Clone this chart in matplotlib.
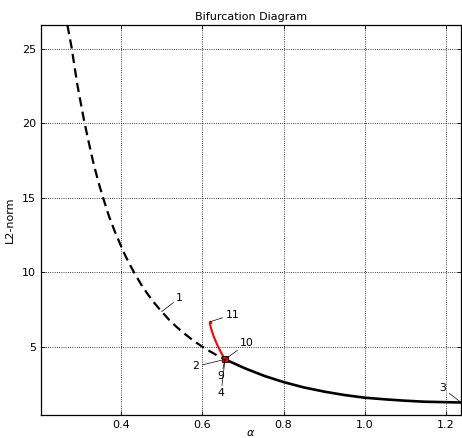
import matplotlib
matplotlib.use("Agg")
import matplotlib.pyplot as plt

# Unstable branch (dashed), from the top of the plot down to the branch point
unstable_alpha = [0.268, 0.279, 0.285, 0.2925, 0.300, 0.309, 0.320, 0.332,
                  0.345, 0.356, 0.370, 0.385, 0.406, 0.420, 0.434, 0.450,
                  0.463, 0.480, 0.500, 0.520, 0.537, 0.555, 0.570, 0.585,
                  0.598, 0.615, 0.635, 0.656]
unstable_l2 = [26.6, 25.0, 23.9, 22.6, 21.5, 20.2, 18.8, 17.35,
               16.0, 15.0, 13.8, 12.73, 11.39, 10.61, 9.91, 9.18,
               8.65, 8.02, 7.37, 6.78, 6.34, 5.92, 5.60, 5.30,
               5.06, 4.77, 4.46, 4.17]

# Stable branch (solid)
stable_alpha = [0.656, 0.680, 0.705, 0.754, 0.800, 0.850, 0.902, 0.950,
                1.000, 1.050, 1.099, 1.148, 1.200, 1.237]
stable_l2 = [4.17, 3.88, 3.57, 3.05, 2.65, 2.29, 2.00, 1.78,
             1.60, 1.49, 1.40, 1.33, 1.30, 1.28]

# Secondary branch (red) leaving the branch point
branch_alpha = [0.656, 0.650, 0.644, 0.638, 0.632, 0.627, 0.623, 0.620,
                0.6188, 0.6198, 0.622]
branch_l2 = [4.17, 4.45, 4.75, 5.08, 5.45, 5.80, 6.13, 6.42,
             6.60, 6.70, 6.62]

# Special point labels with their text offsets (px)
point_labels = ["1", "2", "3", "4", "9", "10", "11"]
point_alpha = [0.500, 0.656, 1.237, 0.656, 0.656, 0.656, 0.6198]
point_l2 = [7.37, 4.17, 1.28, 4.17, 4.17, 4.17, 6.70]
label_dx = [18, -29, -18, -4, -4, 22, 22]
label_dy = [14, -7, 14, -34, -17, 16, 7]

fig = plt.figure(figsize=(4.62, 4.38), dpi=100)
ax = fig.add_axes([0.0887, 0.0525, 0.9093, 0.8905])

ax.plot(unstable_alpha, unstable_l2, color="k", linestyle="--", linewidth=1.6,
        dashes=(4.2, 2.4))
ax.plot(stable_alpha, stable_l2, color="k", linestyle="-", linewidth=1.9)
ax.plot(branch_alpha, branch_l2, color="red", linestyle="-", linewidth=1.5)
ax.plot([stable_alpha[0]], [stable_l2[0]], marker="s", markersize=5,
        markerfacecolor="red", markeredgecolor="k", markeredgewidth=0.6,
        linestyle="none")

for txt, a, v, dx, dy in zip(point_labels, point_alpha, point_l2, label_dx, label_dy):
    ax.annotate(txt, xy=(a, v), xytext=(dx * 0.72, dy * 0.72),
                textcoords="offset points", ha="center", va="center",
                fontsize=7.8,
                arrowprops=dict(arrowstyle="-", color="k", lw=0.5,
                                shrinkA=0, shrinkB=0))

ax.set_xlim(0.203, 1.237)
ax.set_ylim(0.44, 26.6)
ax.set_xticks([0.4, 0.6, 0.8, 1.0, 1.2])
ax.set_yticks([5, 10, 15, 20, 25])
ax.grid(True, linestyle=":", color="k", linewidth=0.6)
ax.tick_params(direction="in", top=True, right=True, length=3, width=0.6,
               labelsize=8)
for sp in ax.spines.values():
    sp.set_linewidth(0.9)

ax.set_title("Bifurcation Diagram", fontsize=8, pad=3.5)
ax.set_xlabel(r"$\alpha$", fontsize=8)
ax.xaxis.set_label_coords(0.5, -0.034)
ax.set_ylabel("L2-norm", fontsize=8, labelpad=5)

fig.savefig("out.png", dpi=100)
